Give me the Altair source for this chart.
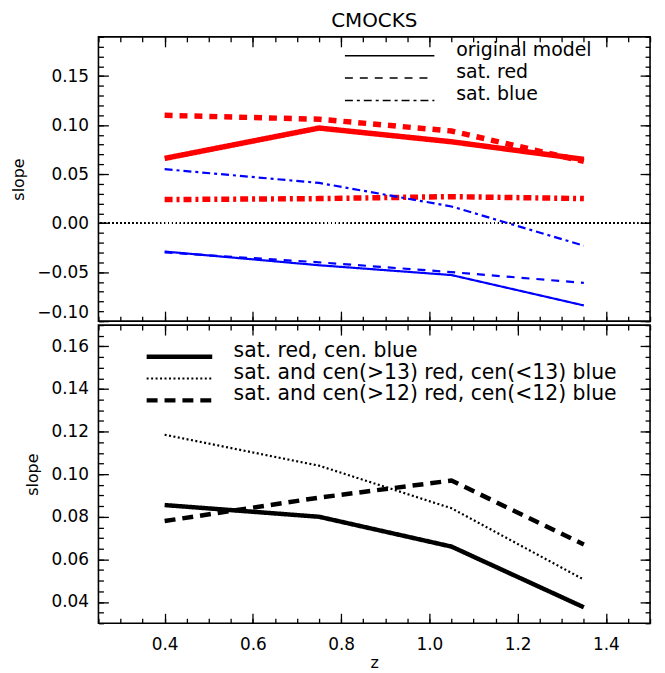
import altair as alt
import pandas as pd

# ---------------- data ----------------
z = [0.4, 0.75, 1.05, 1.35]

top_models = ["original model", "sat. red", "sat. blue"]
red_original = [0.066, 0.097, 0.083, 0.065]
red_sat_red = [0.110, 0.106, 0.094, 0.063]
red_sat_blue = [0.024, 0.025, 0.027, 0.025]
blue_original = [-0.029, -0.043, -0.053, -0.084]
blue_sat_red = [-0.030, -0.040, -0.050, -0.061]
blue_sat_blue = [0.055, 0.041, 0.017, -0.023]

bot_models = [
    "sat. red, cen. blue",
    "sat. and cen(>13) red, cen(<13) blue",
    "sat. and cen(>12) red, cen(<12) blue",
]
satred_cenblue = [0.0855, 0.080, 0.066, 0.0375]
cen13 = [0.1185, 0.104, 0.084, 0.0505]
cen12 = [0.078, 0.089, 0.097, 0.067]

x_major = [0.4, 0.6, 0.8, 1.0, 1.2, 1.4]
x_minor = [round(0.25 + 0.05 * i, 2) for i in range(26)]
top_major = [-0.10, -0.05, 0.0, 0.05, 0.10, 0.15]
top_minor = [round(-0.10 + 0.01 * i, 2) for i in range(30)]
bot_major = [0.04, 0.06, 0.08, 0.10, 0.12, 0.14, 0.16]
bot_minor = [round(0.03 + 0.005 * i, 3) for i in range(29)]


def long(series):
    rows = []
    for name, grp, vals in series:
        for zi, v in zip(z, vals):
            rows.append({"z": zi, "slope": v, "model": name, "grp": grp})
    return pd.DataFrame(rows)


top_df = long([
    ("original model", "red", red_original),
    ("sat. red", "red", red_sat_red),
    ("sat. blue", "red", red_sat_blue),
    ("original model", "blue", blue_original),
    ("sat. red", "blue", blue_sat_red),
    ("sat. blue", "blue", blue_sat_blue),
])
bot_df = long([
    (bot_models[0], "thick", satred_cenblue),
    (bot_models[1], "thin", cen13),
    (bot_models[2], "thick", cen12),
])

# ---------------- styling ----------------
FONT = "DejaVu Sans"
XDOM = [0.25, 1.5]
TOP_DOM = [-0.10, 0.19]
BOT_DOM = [0.03, 0.17]
W = 555
MAJ, MIN = 10, 5
VIEW = alt.ViewBackground(stroke="black", strokeWidth=1.6, fill="white")


def axis(orient, values, size, labels=False, title=None, **kw):
    d = dict(
        orient=orient, values=values, tickSize=size, offset=-size,
        labels=labels, domain=False, grid=False, ticks=True,
        tickColor="black", tickWidth=1.3, labelFont=FONT, labelFontSize=17,
        labelColor="black", labelPadding=10, format=".2f",
        titleFont=FONT, titleFontSize=16, titleFontWeight="normal",
        titleColor="black", title=title,
    )
    d.update(kw)
    return alt.Axis(**d)


def xenc(ax):
    return alt.X("z:Q", scale=alt.Scale(domain=XDOM, nice=False, zero=False), axis=ax)


def yenc(ax, dom):
    return alt.Y("slope:Q", scale=alt.Scale(domain=dom, nice=False, zero=False), axis=ax)


def carriers(df, dom, ymaj, ymin, bottom_labels):
    xb = dict(labels=True, format=".1f", title="z", titlePadding=3,
              labelPadding=13) if bottom_labels else {}
    specs = [
        (axis("bottom", x_major, MAJ, **xb),
         axis("left", ymaj, MAJ, labels=True, title="slope", titlePadding=10, labelFlush=True)),
        (axis("bottom", x_minor, MIN), axis("left", ymin, MIN)),
        (axis("top", x_major, MAJ), axis("right", ymaj, MAJ)),
        (axis("top", x_minor, MIN), axis("right", ymin, MIN)),
    ]
    return [
        alt.Chart(df).mark_point(opacity=0).encode(x=xenc(a), y=yenc(b, dom))
        for a, b in specs
    ]


# ---------------- top panel ----------------
top_dash = alt.Scale(domain=top_models, range=[[1, 0], [8, 7], [8, 4, 3, 4]])
top_legend = alt.Legend(
    title=None, orient="none", legendX=247, legendY=9, padding=0,
    symbolType="stroke", symbolSize=8100, clipHeight=20, rowPadding=-2.5,
    labelOffset=21, labelFont=FONT, labelFontSize=19, labelColor="black",
    labelBaseline="alphabetic", labelLimit=500,
    symbolStrokeColor="black", symbolStrokeWidth=1.5,
)


def data_layer(df, grp, color, width, dom, dash_scale, legend):
    return alt.Chart(df).transform_filter(alt.datum.grp == grp).mark_line(
        color=color, strokeWidth=width
    ).encode(
        x=xenc(None), y=yenc(None, dom),
        strokeDash=alt.StrokeDash("model:N", scale=dash_scale, legend=legend),
    )


zero_rule = alt.Chart(top_df).mark_rule(
    color="black", strokeWidth=1, strokeDash=[1, 3]
).encode(y=alt.YDatum(0, type="quantitative",
                      scale=alt.Scale(domain=TOP_DOM, nice=False, zero=False),
                      axis=None))

top = alt.layer(
    *carriers(top_df, TOP_DOM, top_major, top_minor, False),
    zero_rule,
    data_layer(top_df, "red", "#ff0000", 5.5, TOP_DOM, top_dash, top_legend),
    data_layer(top_df, "blue", "#0000ff", 2.2, TOP_DOM, top_dash, top_legend),
).resolve_axis(x="independent", y="independent").properties(
    width=W, height=286, view=VIEW,
    title=alt.Title("CMOCKS", font=FONT, fontSize=20, fontWeight="normal",
                    color="black", anchor="middle", frame="group", offset=2,
                    dy=-3),
)

# ---------------- bottom panel ----------------
bot_dash = alt.Scale(domain=bot_models, range=[[1, 0], [2, 2.5], [11, 7]])
bot_width = alt.Scale(type="ordinal", domain=bot_models, range=[4.5, 2.2, 4.5])
bot_legend = alt.Legend(
    title=None, orient="none", legendX=46, legendY=21, padding=0,
    symbolType="stroke", symbolSize=4356, clipHeight=21.5, rowPadding=-8,
    labelOffset=19, labelFont=FONT, labelFontSize=20.5, labelColor="black",
    labelBaseline="alphabetic", labelLimit=600,
    symbolStrokeColor="black",
)

bot_lines = alt.Chart(bot_df).mark_line(color="black").encode(
    x=xenc(None), y=yenc(None, BOT_DOM),
    strokeDash=alt.StrokeDash("model:N", scale=bot_dash, legend=bot_legend),
    strokeWidth=alt.StrokeWidth("model:N", scale=bot_width, legend=bot_legend),
)

bottom = alt.layer(
    *carriers(bot_df, BOT_DOM, bot_major, bot_minor, True),
    bot_lines,
).resolve_axis(x="independent", y="independent").properties(
    width=W, height=300, view=VIEW
)

chart = alt.vconcat(top, bottom, spacing=0).resolve_scale(
    strokeDash="independent", strokeWidth="independent"
).resolve_legend(strokeDash="independent", strokeWidth="independent").properties(
    padding={"left": 2, "top": 0, "right": 5, "bottom": 0}
).configure_view(stroke="black", strokeWidth=1.6).configure(background="white")

chart.save("out.html", embed_options={"renderer": "svg", "actions": False})
